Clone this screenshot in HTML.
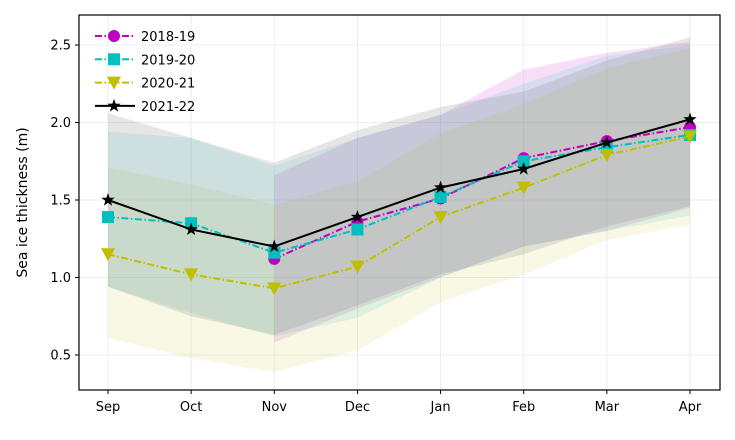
<!DOCTYPE html>
<html><head><meta charset="utf-8"><style>
body{margin:0;background:#fff}
svg text{font-family:"DejaVu Sans","Liberation Sans",sans-serif;font-size:13px;fill:#000}
</style></head><body>
<svg width="735" height="435" id="c"></svg>
<script>
const months=["Sep","Oct","Nov","Dec","Jan","Feb","Mar","Apr"];
const yTicks=[0.5,1.0,1.5,2.0,2.5];
const s1819=[null,null,1.12,1.36,1.51,1.77,1.88,1.97];
const s1819Up=[null,null,1.66,1.90,2.05,2.34,2.45,2.52];
const s1819Lo=[null,null,0.58,0.80,1.00,1.20,1.30,1.45];
const s1920=[1.39,1.35,1.16,1.31,1.52,1.75,1.84,1.92];
const s1920Up=[1.94,1.90,1.72,1.90,2.05,2.25,2.43,2.50];
const s1920Lo=[0.94,0.77,0.62,0.74,1.00,1.20,1.30,1.40];
const s2021=[1.15,1.02,0.93,1.07,1.39,1.58,1.79,1.91];
const s2021Up=[1.71,1.60,1.47,1.62,1.93,2.12,2.35,2.48];
const s2021Lo=[0.61,0.48,0.39,0.53,0.84,1.02,1.24,1.34];
const s2122=[1.50,1.31,1.20,1.39,1.58,1.70,1.87,2.02];
const s2122Up=[2.06,1.90,1.74,1.95,2.10,2.20,2.40,2.55];
const s2122Lo=[0.94,0.75,0.63,0.82,1.02,1.15,1.33,1.46];
const NS="http://www.w3.org/2000/svg",svg=document.getElementById('c');
const L=79,R=720,T=15,B=390;
const xs=i=>108+i*(690-108)/7, ys=v=>355-(v-0.5)*155;
function el(t,a,p){const e=document.createElementNS(NS,t);for(const k in a)e.setAttribute(k,a[k]);(p||svg).appendChild(e);return e;}
yTicks.forEach(v=>{const g=el('line',{x1:L,x2:R,y1:ys(v),y2:ys(v),stroke:'#eeeeee','stroke-width':1});

});
months.forEach((m,i)=>{const g=el('line',{x1:xs(i),x2:xs(i),y1:T,y2:B,stroke:'#eeeeee','stroke-width':1});

});
const series=[
 {n:'2018-19',v:s1819,u:s1819Up,l:s1819Lo,c:'#bf00bf',d:'7,2.5,1.5,2.5',m:'circle',o:0.12},
 {n:'2019-20',v:s1920,u:s1920Up,l:s1920Lo,c:'#00bfbf',d:'7,2.5,1.5,2.5',m:'square',o:0.12},
 {n:'2020-21',v:s2021,u:s2021Up,l:s2021Lo,c:'#bfbf00',d:'7,2.5,1.5,2.5',m:'tri',o:0.1},
 {n:'2021-22',v:s2122,u:s2122Up,l:s2122Lo,c:'#000000',d:'',m:'star',o:0.2}];
function band(s){const pts=[];s.u.forEach((v,i)=>{if(v!=null)pts.push(xs(i)+','+ys(v));});
for(let i=s.l.length-1;i>=0;i--)if(s.l[i]!=null)pts.push(xs(i)+','+ys(s.l[i]));
const p=el('polygon',{points:pts.join(' '),fill:s.c==='#000000'?'#808080':s.c,'fill-opacity':s.o});

}
series.forEach(band);
function marker(t,x,y,c,g){let e;
if(t==='circle')e=el('circle',{cx:x,cy:y,r:6,fill:c},g);
else if(t==='square')e=el('rect',{x:x-6,y:y-6,width:12,height:12,fill:c},g);
else if(t==='tri')e=el('polygon',{points:`${x-7},${y-6} ${x+7},${y-6} ${x},${y+7}`,fill:c},g);
else{const p=[];for(let k=0;k<10;k++){const r=k%2?2.8:7,a=-Math.PI/2+k*Math.PI/5;p.push((x+r*Math.cos(a)).toFixed(1)+','+(y+r*Math.sin(a)).toFixed(1));}
e=el('polygon',{points:p.join(' '),fill:c},g);}
return e;}
series.forEach(s=>{const g=el('g',{});


const pts=[];s.v.forEach((v,i)=>{if(v!=null)pts.push(xs(i)+','+ys(v));});
el('polyline',{points:pts.join(' '),fill:'none',stroke:s.c,'stroke-width':2,'stroke-dasharray':s.d},g);
s.v.forEach((v,i)=>{if(v!=null){const m=marker(s.m,xs(i),ys(v),s.c,g);

}});});
const f=el('rect',{x:L,y:T,width:R-L,height:B-T,fill:'none',stroke:'#000','stroke-width':1.2});


months.forEach((m,i)=>{el('line',{x1:xs(i),x2:xs(i),y1:B,y2:B+4,stroke:'#000'});
const t=el('text',{x:xs(i),y:B+21,'text-anchor':'middle'});t.textContent=m;

});
yTicks.forEach(v=>{el('line',{x1:L-4,x2:L,y1:ys(v),y2:ys(v),stroke:'#000'});
const t=el('text',{x:L-8,y:ys(v)+4.5,'text-anchor':'end'});t.textContent=v.toFixed(1);

});
const yc=202.5;
const yl=el('text',{x:27,y:yc,'text-anchor':'middle',style:'font-size:14px',transform:`rotate(-90 27 ${yc})`});
yl.textContent='Sea ice thickness (m)';


series.forEach((s,i)=>{const y=36+i*23.3;const g=el('g',{});


el('line',{x1:95,x2:135,y1:y,y2:y,stroke:s.c,'stroke-width':2,'stroke-dasharray':s.d},g);
marker(s.m,114,y,s.c,g);
const t=el('text',{x:141,y:y+5},g);t.textContent=s.n;});
</script>
</body></html>
